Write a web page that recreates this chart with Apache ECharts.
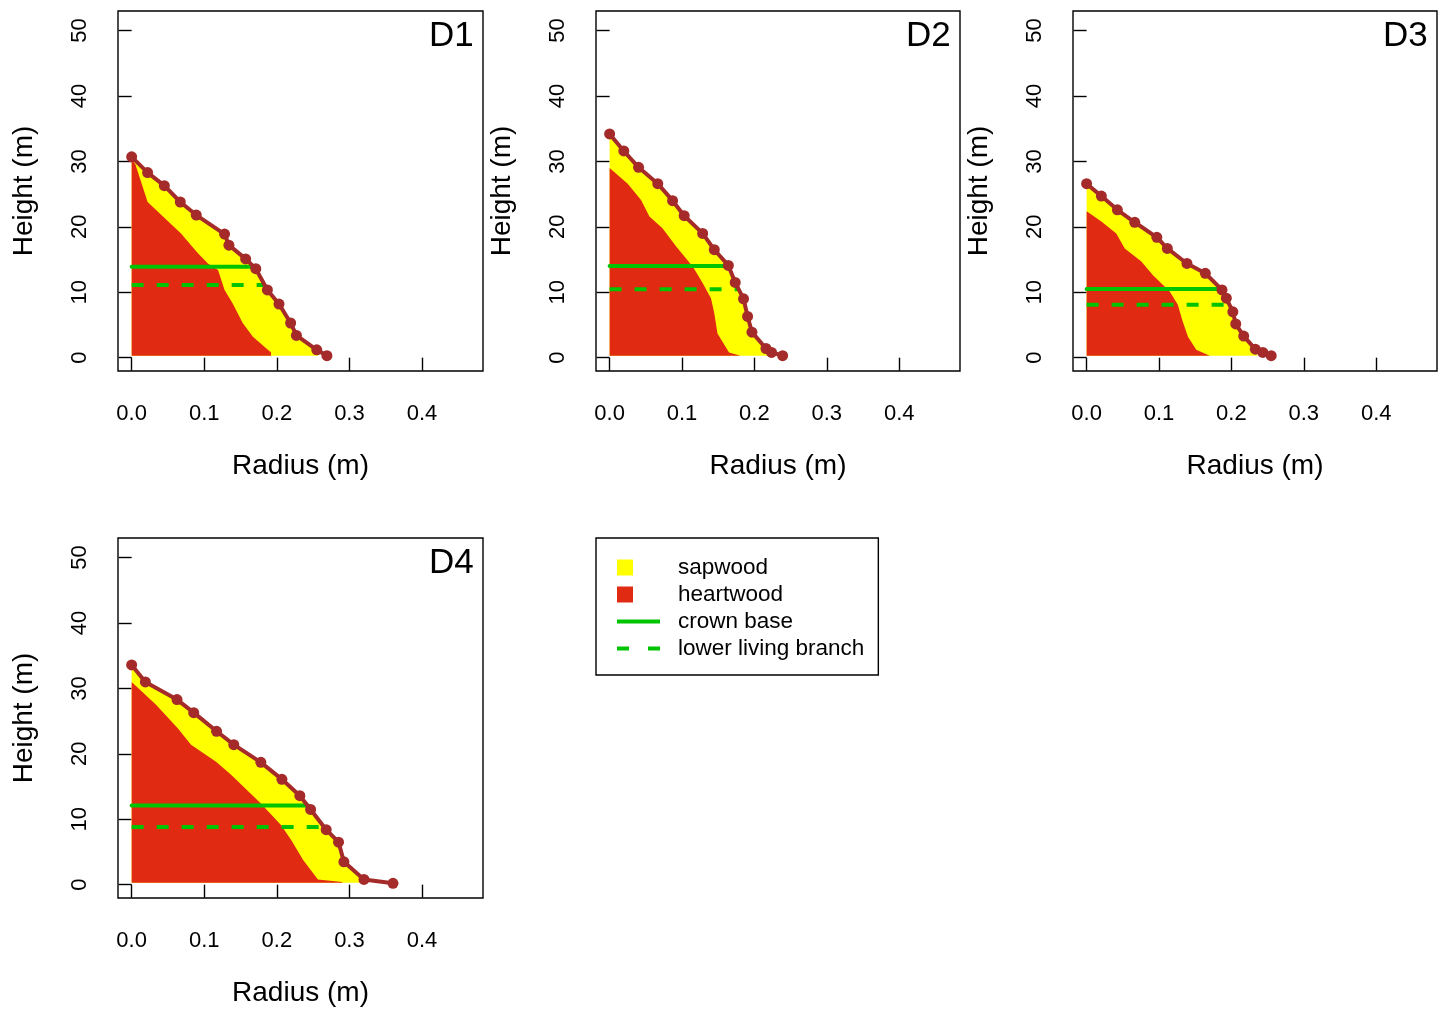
<!DOCTYPE html>
<html>
<head>
<meta charset="utf-8">
<title>Stem profiles D1-D4</title>
<script src="https://cdn.jsdelivr.net/npm/echarts@6/dist/echarts.min.js"></script>
<style>
  html, body { margin: 0; padding: 0; background: #ffffff; }
  #chart { width: 1447px; height: 1022px; }
</style>
</head>
<body>
<div id="chart"></div>
<script>
// ---- data: radius (m), height (m) ----
const panelNames = ['D1', 'D2', 'D3', 'D4'];
const xTicks = [0, 0.1, 0.2, 0.3, 0.4];
const yTicks = [0, 10, 20, 30, 40, 50];

// outer stem profile (measured discs)
const d1Outer = [[0,30.7],[0.022,28.3],[0.045,26.3],[0.067,23.8],[0.089,21.8],[0.128,18.9],[0.134,17.2],[0.157,15.1],[0.171,13.6],[0.187,10.35],[0.203,8.2],[0.219,5.3],[0.227,3.4],[0.255,1.2],[0.269,0.3]];
const d2Outer = [[0,34.2],[0.0196,31.6],[0.040,29.1],[0.0665,26.6],[0.087,24.0],[0.103,21.7],[0.1285,19.0],[0.1446,16.5],[0.164,14.1],[0.1735,11.5],[0.185,9.0],[0.1906,6.3],[0.1966,3.9],[0.216,1.4],[0.2237,0.8],[0.239,0.3]];
const d3Outer = [[0,26.6],[0.0204,24.7],[0.0425,22.6],[0.0665,20.7],[0.097,18.4],[0.1115,16.7],[0.1386,14.4],[0.164,12.9],[0.187,10.35],[0.193,9.1],[0.202,7.0],[0.206,5.15],[0.217,3.3],[0.233,1.3],[0.2434,0.8],[0.255,0.3]];
const d4Outer = [[0,33.6],[0.0189,31.0],[0.0625,28.3],[0.0855,26.3],[0.117,23.45],[0.1407,21.4],[0.178,18.7],[0.207,16.1],[0.2317,13.6],[0.2465,11.5],[0.268,8.4],[0.285,6.5],[0.2924,3.5],[0.32,0.8],[0.36,0.2]];

// sapwood outline (closed polygon)
const d1Sap = [[0,30.7],[0.022,28.3],[0.045,26.3],[0.067,23.8],[0.089,21.8],[0.128,18.9],[0.134,17.2],[0.157,15.1],[0.171,13.6],[0.187,10.35],[0.203,8.2],[0.219,5.3],[0.227,3.4],[0.255,1.2],[0.257,0.3],[0,0.3]];
const d2Sap = [[0,34.2],[0.0196,31.6],[0.040,29.1],[0.0665,26.6],[0.087,24.0],[0.103,21.7],[0.1285,19.0],[0.1446,16.5],[0.164,14.1],[0.1735,11.5],[0.185,9.0],[0.1906,6.3],[0.1966,3.9],[0.216,1.4],[0.222,0.3],[0,0.3]];
const d3Sap = [[0,26.6],[0.0204,24.7],[0.0425,22.6],[0.0665,20.7],[0.097,18.4],[0.1115,16.7],[0.1386,14.4],[0.164,12.9],[0.187,10.35],[0.193,9.1],[0.202,7.0],[0.206,5.15],[0.217,3.3],[0.233,1.3],[0.236,0.3],[0,0.3]];
const d4Sap = [[0,33.6],[0.0189,31.0],[0.0625,28.3],[0.0855,26.3],[0.117,23.45],[0.1407,21.4],[0.178,18.7],[0.207,16.1],[0.2317,13.6],[0.2465,11.5],[0.268,8.4],[0.285,6.5],[0.2924,3.5],[0.32,0.8],[0.316,0.3],[0,0.3]];

// heartwood outline (closed polygon)
const d1Heart = [[0,30.3],[0.005,29.6],[0.022,23.8],[0.068,19.0],[0.091,16.0],[0.105,14.4],[0.119,13.4],[0.128,10.35],[0.139,8.3],[0.153,5.3],[0.167,3.2],[0.192,0.8],[0.192,0.3],[0,0.3]];
const d2Heart = [[0,29.0],[0.025,26.6],[0.0434,24.1],[0.055,21.6],[0.073,19.8],[0.092,17.0],[0.115,13.9],[0.1285,11.4],[0.14,9.1],[0.1446,6.8],[0.149,3.7],[0.165,0.8],[0.181,0.3],[0,0.3]];
const d3Heart = [[0,22.4],[0.0204,20.8],[0.041,19.0],[0.0527,16.7],[0.0756,14.7],[0.0917,12.6],[0.1148,10.1],[0.126,8.1],[0.132,5.8],[0.14,3.2],[0.1515,1.2],[0.17,0.3],[0,0.3]];
const d4Heart = [[0,31.0],[0.0336,27.5],[0.0635,23.9],[0.0818,21.4],[0.1163,18.8],[0.137,16.8],[0.178,12.4],[0.206,9.1],[0.22,6.8],[0.236,3.8],[0.2566,0.8],[0.29,0.4],[0.29,0.3],[0,0.3]];

// crown base and lowest living branch: height (m) and stem radius at that height (m)
const crownBaseHeight = [13.9, 14.0, 10.5, 12.1];
const crownBaseRadius = [0.167, 0.164, 0.186, 0.243];
const lowBranchHeight = [11.1, 10.45, 8.1, 8.8];
const lowBranchRadius = [0.184, 0.179, 0.190, 0.261];

const outerProfiles = [d1Outer, d2Outer, d3Outer, d4Outer];
const sapProfiles = [d1Sap, d2Sap, d3Sap, d4Sap];
const heartProfiles = [d1Heart, d2Heart, d3Heart, d4Heart];

// ---- styling / layout ----
const FONT = "'Liberation Sans', Arial, Helvetica, sans-serif";
const SAP = '#FFFF00';
const HEART = '#E02B12';
const STEM = '#A52A2A';
const GREEN = '#00C400';

const gridBoxes = [
  { left: 118, top: 11, width: 365, height: 360 },
  { left: 596, top: 11, width: 364, height: 360 },
  { left: 1073, top: 11, width: 364, height: 360 },
  { left: 118, top: 538, width: 365, height: 360 }
];

const grids = gridBoxes.map(b => Object.assign({
  show: true, borderColor: '#000', borderWidth: 1.4, backgroundColor: 'transparent', containLabel: false
}, b));

const xAxes = gridBoxes.map((b, i) => ({
  type: 'value', gridIndex: i, min: -0.0188, max: 0.484,
  name: 'Radius (m)', nameLocation: 'middle', nameGap: 81,
  nameTextStyle: { fontSize: 28, color: '#000', fontFamily: FONT },
  axisLine: { show: false },
  splitLine: { show: false },
  axisTick: { show: true, length: 13, inside: false, customValues: xTicks, lineStyle: { color: '#000', width: 1.4 } },
  axisLabel: { customValues: xTicks, margin: 32, fontSize: 22, color: '#000', fontFamily: FONT,
               formatter: v => v.toFixed(1) }
}));

const yAxes = gridBoxes.map((b, i) => ({
  type: 'value', gridIndex: i, min: -2.04, max: 53.0,
  name: 'Height (m)', nameLocation: 'middle', nameGap: 80,
  nameTextStyle: { fontSize: 28, color: '#000', fontFamily: FONT },
  axisLine: { show: false },
  splitLine: { show: false },
  axisTick: { show: true, length: 13, inside: false, customValues: yTicks, lineStyle: { color: '#000', width: 1.4 } },
  axisLabel: { customValues: yTicks, rotate: 90, margin: 27.5, fontSize: 22, color: '#000', fontFamily: FONT }
}));

function polygonSeries(name, points, idx, color, z) {
  return {
    type: 'custom', name: name, xAxisIndex: idx, yAxisIndex: idx,
    data: points, encode: { x: 0, y: 1 }, clip: true, silent: true, z: z,
    itemStyle: { color: color },
    renderItem: (params, api) => {
      if (params.dataIndex !== 0) return null;
      return {
        type: 'polygon',
        shape: { points: points.map(p => api.coord(p)) },
        style: { fill: color, stroke: null }
      };
    }
  };
}

const series = [];
panelNames.forEach((p, i) => {
  series.push(polygonSeries('sapwood', sapProfiles[i], i, SAP, 1));
  series.push(polygonSeries('heartwood', heartProfiles[i], i, HEART, 2));
  series.push({
    type: 'line', name: 'crown base', xAxisIndex: i, yAxisIndex: i, z: 3,
    data: [[0, crownBaseHeight[i]], [crownBaseRadius[i], crownBaseHeight[i]]],
    symbol: 'none', silent: true,
    lineStyle: { color: GREEN, width: 4, cap: 'round' }, itemStyle: { color: GREEN }
  });
  series.push({
    type: 'line', name: 'lower living branch', xAxisIndex: i, yAxisIndex: i, z: 3,
    data: [[0, lowBranchHeight[i]], [lowBranchRadius[i], lowBranchHeight[i]]],
    symbol: 'none', silent: true,
    lineStyle: { color: GREEN, width: 4, type: [12, 13], cap: 'butt' }, itemStyle: { color: GREEN }
  });
  series.push({
    type: 'line', name: 'stem ' + p, xAxisIndex: i, yAxisIndex: i, z: 4,
    data: outerProfiles[i], symbol: 'circle', symbolSize: 11, showSymbol: true, silent: true,
    lineStyle: { color: STEM, width: 4 }, itemStyle: { color: STEM }
  });
});

// panel labels, top-right inside each box
const titles = gridBoxes.map((b, i) => ({
  text: panelNames[i], left: b.left + b.width - 54, top: b.top + 8, padding: 0,
  textStyle: { fontSize: 35, fontWeight: 'normal', color: '#000', fontFamily: FONT }
}));

// legend swatches: icon boxes are 43x16; the zero-length corner segments fix the box extent
const squareIcon = 'path://M0,0L0,0M43,16L43,16M0,0L16,0L16,16L0,16Z';
const solidIcon = 'path://M0,0L0,0M43,16L43,16M0,6L43,6L43,10L0,10Z';
const dashedIcon = 'path://M0,0L0,0M43,16L43,16M0,6L12,6L12,10L0,10ZM31,6L43,6L43,10L31,10Z';

const option = {
  animation: false,
  backgroundColor: '#ffffff',
  title: titles,
  grid: grids,
  xAxis: xAxes,
  yAxis: yAxes,
  legend: {
    left: 596, top: 538, orient: 'vertical',
    padding: [18, 14, 15, 21], itemGap: 4, itemWidth: 43, itemHeight: 16,
    borderColor: '#000', borderWidth: 1.4, selectedMode: false,
    textStyle: { fontSize: 22.5, color: '#000', fontFamily: FONT, padding: [0, 0, 0, 13] },
    data: [
      { name: 'sapwood', icon: squareIcon, itemStyle: { color: SAP } },
      { name: 'heartwood', icon: squareIcon, itemStyle: { color: HEART } },
      { name: 'crown base', icon: solidIcon, itemStyle: { color: GREEN } },
      { name: 'lower living branch', icon: dashedIcon, itemStyle: { color: GREEN } }
    ]
  },
  series: series
};

const chart = echarts.init(document.getElementById('chart'), null, { renderer: 'canvas' });
chart.setOption(option);
</script>
</body>
</html>
